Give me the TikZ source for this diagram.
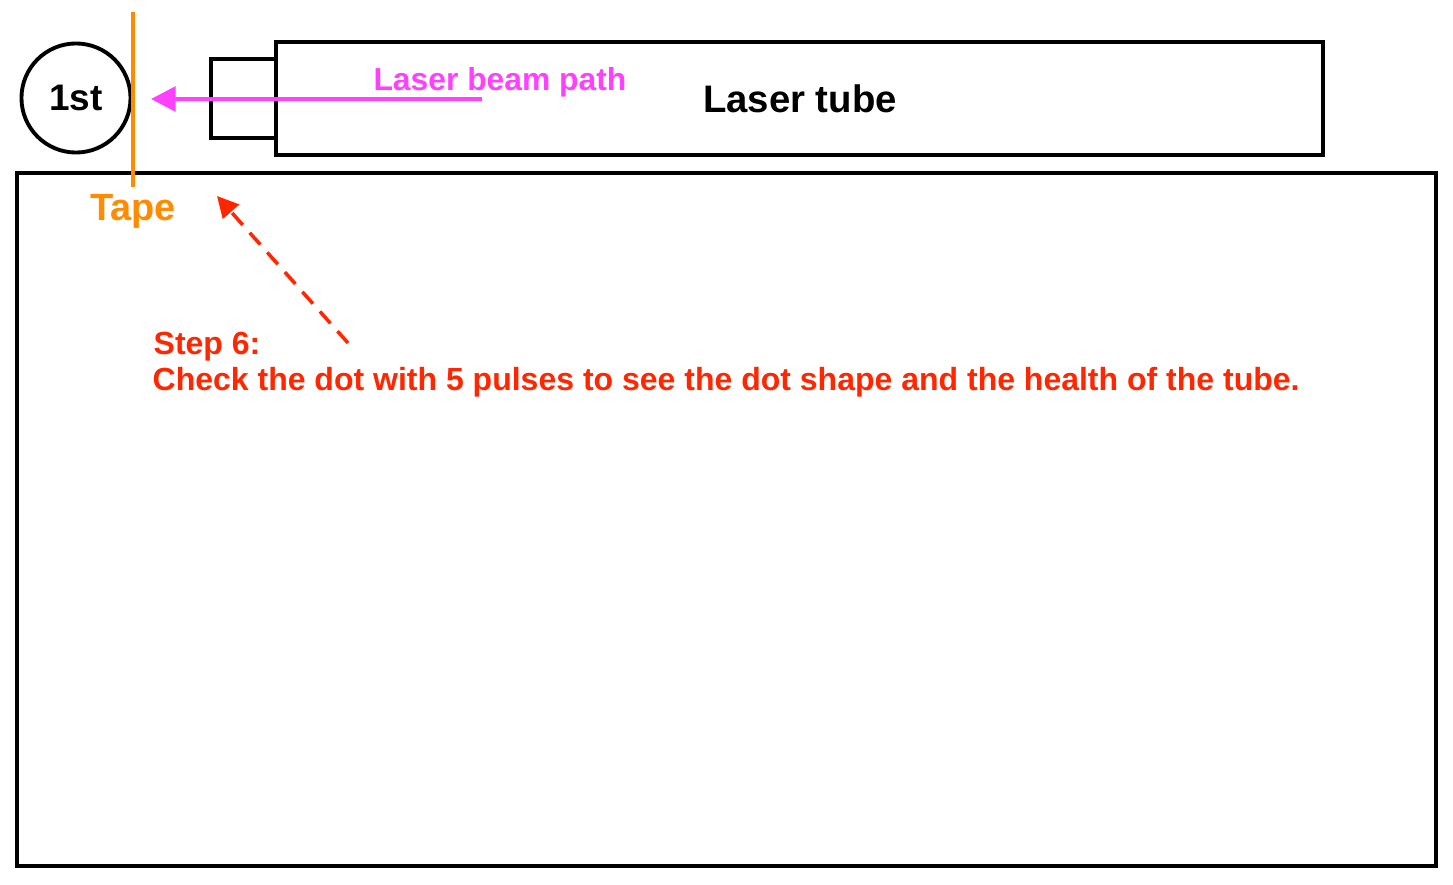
\documentclass[tikz,border=0pt]{standalone}
\usepackage{fontspec}
\setmainfont{Liberation Sans}
\usetikzlibrary{arrows.meta}
\usetikzlibrary{positioning}
\definecolor{tapeorange}{RGB}{255,140,0}
\definecolor{beampink}{RGB}{255,64,255}
\definecolor{stepred}{RGB}{255,38,0}
\tikzset{
	boxline/.style={draw=black,line width=1.1pt},
	txt/.style={inner sep=0pt},
}
\begin{document}
\begin{tikzpicture}[x=0.01cm,y=-0.01cm]
	\useasboundingbox (0,0) rectangle (1453,885);
	% table and tube
	\draw[boxline] (17,173) rectangle (1436,866);
	\draw[boxline] (211,59) rectangle (276,138);
	\draw[boxline] (276,42) rectangle (1323,155);
	\node[txt,font=\bfseries\fontsize{10.9pt}{13pt}\selectfont] (tube) at (800,99) {Laser tube};
	
	% mirror
	\node[boxline,circle,minimum size=1.09cm,inner sep=0pt,font=\bfseries\fontsize{10.5pt}{12pt}\selectfont] (first) at (76,98) {1st};
	
	% tape
	\coordinate (tapetop) at (133,12);
	\coordinate (tapebot) at (133,187);
	\draw[tapeorange,line width=1pt] (tapetop) -- (tapebot);
	\node[txt,tapeorange,font=\bfseries\fontsize{10.8pt}{13pt}\selectfont] (tape) at (133,211) {Tape};
	
	% beam
	\coordinate (beamstart) at (482,99);
	\coordinate (beamend) at (151,99);
	\draw[beampink,line width=1.1pt,-{Triangle[length=7pt,width=7pt]}] (beamstart) -- (beamend);
	\node[txt,beampink,font=\bfseries\fontsize{9.05pt}{11pt}\selectfont] (beam) at (500,82) {Laser beam path};
	
	% step
	\node[txt,stepred,anchor=west,font=\bfseries\fontsize{9.1pt}{11pt}\selectfont] (step) at (153,347) {Step 6:};
	\node[txt,stepred,anchor=west,font=\bfseries\fontsize{9.1pt}{11pt}\selectfont] (check) at (152,382) {Check the dot with 5 pulses to see the dot shape and the health of the tube.};
	\coordinate (dashstart) at (348,343);
	\coordinate (dashend) at (217,196);
	\draw[stepred,line width=1pt,dash pattern=on 4.5pt off 3pt,-{Triangle[length=6pt,width=6pt]}] (dashstart) -- (dashend);
\end{tikzpicture}
\end{document}
